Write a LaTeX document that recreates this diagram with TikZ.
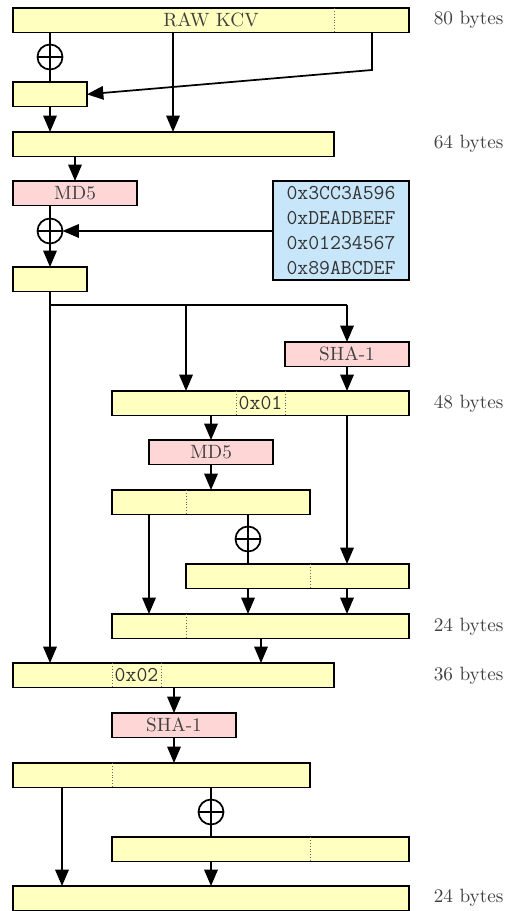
\documentclass[tikz,border=0pt]{standalone}
\usepackage{tikz}
\usetikzlibrary{arrows.meta}
\definecolor{bufyellow}{HTML}{FFFFBF}
\definecolor{hashpink}{HTML}{FFD6D6}
\definecolor{ivblue}{HTML}{C8E6FA}

\begin{document}
\begin{tikzpicture}[x=0.52pt, y=-0.52pt, line width=0.9pt, >={Triangle[length=8.5pt,width=7pt]},
    wd/.style={minimum width=#1*0.52pt},
    buf/.style={draw, fill=bufyellow, text=black!75, minimum height=12.8pt, inner sep=0pt, outer sep=0pt, anchor=north west},
    hash/.style={buf, fill=hashpink},
    xor/.style={draw, circle, minimum size=13pt, inner sep=0pt, outer sep=0pt,
      path picture={\draw (path picture bounding box.north) -- (path picture bounding box.south)
        (path picture bounding box.west) -- (path picture bounding box.east);}},
    sep/.style={densely dotted, line width=0.5pt, black!60},
    size/.style={anchor=west, inner sep=0pt, text=black!75},
    hex/.style={font=\fontsize{11}{13}\ttfamily, text=black!80}]
  \useasboundingbox (0,0) rectangle (505,911);

  % key material
  \node [buf, wd=396] (raw) at (13,8) {RAW KCV};
  \draw [sep] (334,8) -- (334,32);
  \node [size] (s80) at (433,20) {80 bytes};
  \node [xor] (x1) at (50,57) {};
  \node [buf, wd=74] (k16a) at (13,82) {};
  \node [buf, wd=321] (k64) at (13,132) {};
  \node [size] (s64) at (433,144) {64 bytes};

  \draw (50,0 |- raw.south) -- (x1);
  \draw (x1) -- (50,0 |- k16a.north);
  \draw [->] (372,0 |- raw.south) -- (372,70) -- (k16a.east);
  \draw [->] (173,0 |- raw.south) -- (173,0 |- k64.north);
  \draw [->] (k16a.south) -- (50,0 |- k64.north);

  % first hash
  \node [hash, wd=124] (md5a) at (13,181) {MD5};
  \node [xor] (x2) at (50,231) {};
  \node [buf, wd=136, fill=ivblue, minimum height=51.5pt, align=center, hex] (iv) at (273,181)
    {0x3CC3A596\\0xDEADBEEF\\0x01234567\\0x89ABCDEF};
  \node [buf, wd=74] (k16b) at (13,267) {};

  \draw [->] (75,0 |- k64.south) -- (75,0 |- md5a.north);
  \draw (50,0 |- md5a.south) -- (x2);
  \draw [->] (x2) -- (50,0 |- k16b.north);
  \draw [->] (iv.west |- x2) -- (x2);

  % second round
  \node [hash, wd=124] (sha1a) at (285,342) {SHA-1};
  \node [buf, wd=297] (k48) at (112,391) {};
  \draw [sep] (236,391) -- (236,416);
  \draw [sep] (285,391) -- (285,416);
  \node [hex] (c01) at (260.5,403.5) {0x01};
  \node [size] (s48) at (433,404) {48 bytes};
  \node [hash, wd=124] (md5b) at (149,440) {MD5};
  \node [buf, wd=198] (k24a) at (112,490) {};
  \draw [sep] (186,490) -- (186,515);
  \node [xor] (x3) at (248,539) {};
  \node [buf, wd=223] (k24b) at (186,564) {};
  \draw [sep] (310,564) -- (310,589);
  \node [buf, wd=297] (k24c) at (112,614) {};
  \draw [sep] (186,614) -- (186,639);
  \node [size] (s24a) at (433,627) {24 bytes};

  \draw (k16b.south) -- (50,305) -- (347,305);
  \draw [->] (347,305) -- (sha1a.north);
  \draw [->] (186,305) -- (186,0 |- k48.north);
  \draw [->] (sha1a.south) -- (347,0 |- k48.north);
  \draw [->] (211,0 |- k48.south) -- (md5b.north);
  \draw [->] (347,0 |- k48.south) -- (347,0 |- k24b.north);
  \draw [->] (md5b.south) -- (211,0 |- k24a.north);
  \draw [->] (149,0 |- k24a.south) -- (149,0 |- k24c.north);
  \draw (248,0 |- k24a.south) -- (x3);
  \draw (x3) -- (248,0 |- k24b.north);
  \draw [->] (248,0 |- k24b.south) -- (248,0 |- k24c.north);
  \draw [->] (347,0 |- k24b.south) -- (347,0 |- k24c.north);

  % third round
  \node [buf, wd=321] (k36) at (13,663) {};
  \draw [sep] (112,663) -- (112,688);
  \draw [sep] (161,663) -- (161,688);
  \node [hex] (c02) at (136.5,675.5) {0x02};
  \node [size] (s36) at (433,676) {36 bytes};
  \node [hash, wd=124] (sha1b) at (112,713) {SHA-1};
  \node [buf, wd=297] (k24d) at (13,763) {};
  \draw [sep] (112,763) -- (112,788);
  \node [xor] (x4) at (211,812) {};
  \node [buf, wd=297] (k24e) at (112,837) {};
  \draw [sep] (310,837) -- (310,861);
  \node [buf, wd=396] (out) at (13,886) {};
  \node [size] (s24b) at (433,898) {24 bytes};

  \draw [->] (50,305) -- (50,0 |- k36.north);
  \draw [->] (261,0 |- k24c.south) -- (261,0 |- k36.north);
  \draw [->] (174,0 |- k36.south) -- (sha1b.north);
  \draw [->] (sha1b.south) -- (174,0 |- k24d.north);
  \draw [->] (62,0 |- k24d.south) -- (62,0 |- out.north);
  \draw (211,0 |- k24d.south) -- (x4);
  \draw (x4) -- (211,0 |- k24e.north);
  \draw [->] (211,0 |- k24e.south) -- (211,0 |- out.north);
\end{tikzpicture}
\end{document}
